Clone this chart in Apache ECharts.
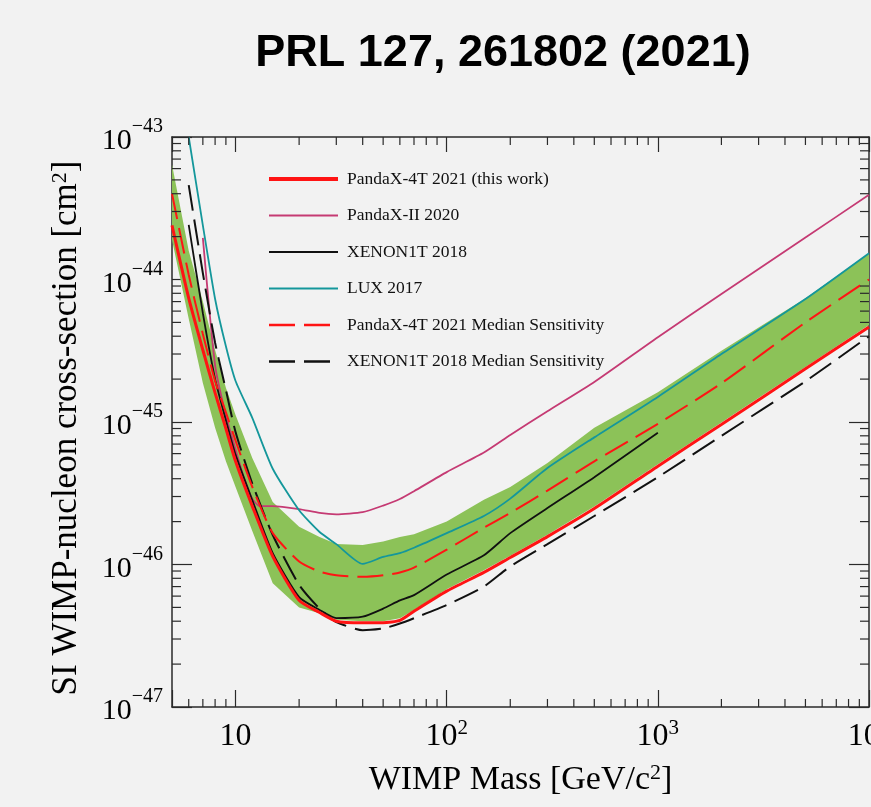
<!DOCTYPE html>
<html lang="en">
<head>
<meta charset="UTF-8" />
<title>PRL 127, 261802 (2021)</title>
<script src="https://cdn.jsdelivr.net/npm/echarts@6/dist/echarts.min.js"></script>
<style>
  html, body { margin: 0; padding: 0; background: #f2f2f2; }
  #chart { width: 871px; height: 807px; }
</style>
</head>
<body>
<div id="chart"></div>
<script>
// WIMP mass grid [GeV/c^2] shared by the PandaX-4T curves and the 1 sigma band
const mass = [5, 6, 7, 8, 9, 10, 12, 15, 20, 25, 30, 40, 50, 60, 70, 100, 150, 200, 300, 500, 1000, 2000, 5000, 10000];
// cross-sections in cm^2
const pandax4t = [2.4e-44, 7.4e-45, 3.2e-45, 1.6e-45, 9.0e-46, 5.3e-46, 2.57e-46, 1.14e-46, 5.6e-47, 4.6e-47, 4.0e-47, 3.9e-47, 3.9e-47, 4.05e-47, 4.7e-47, 6.5e-47, 8.8e-47, 1.12e-46, 1.57e-46, 2.47e-46, 4.9e-46, 9.6e-46, 2.36e-45, 4.65e-45];
const pandax4tMedian = [4.0e-44, 1.08e-44, 4.15e-45, 1.94e-45, 1.17e-45, 7.4e-46, 3.5e-46, 1.66e-46, 1.05e-46, 8.9e-47, 8.4e-47, 8.2e-47, 8.4e-47, 8.8e-47, 9.5e-47, 1.27e-46, 1.81e-46, 2.3e-46, 3.3e-46, 5.3e-46, 9.7e-46, 1.87e-45, 5.0e-45, 1.0e-44];
const bandUpper = [6.4e-44, 1.59e-44, 7.0e-45, 3.2e-45, 1.74e-45, 1.12e-45, 5.6e-46, 2.74e-46, 1.84e-46, 1.56e-46, 1.39e-46, 1.37e-46, 1.45e-46, 1.56e-46, 1.63e-46, 2.0e-46, 2.85e-46, 3.5e-46, 5.15e-46, 9.1e-46, 1.62e-45, 3.16e-45, 7.4e-45, 1.53e-44];
const bandLower = [1.9e-44, 5.3e-45, 1.88e-45, 9.1e-46, 5.3e-46, 3.5e-46, 1.72e-46, 7.4e-47, 5.0e-47, 4.55e-47, 4.1e-47, 4.0e-47, 4.0e-47, 4.2e-47, 4.8e-47, 6.7e-47, 9.1e-47, 1.15e-46, 1.62e-46, 2.55e-46, 5.05e-46, 9.9e-46, 2.43e-45, 4.8e-45];

const pandaxIIMass = [7, 8, 9, 10, 11, 12, 13, 15, 20, 25, 30, 40, 50, 60, 70, 100, 150, 200, 300, 500, 1000, 2000, 5000, 10000];
const pandaxII = [1.96e-44, 2.5e-45, 1.11e-45, 6.4e-46, 4.0e-46, 2.9e-46, 2.57e-46, 2.57e-46, 2.45e-46, 2.3e-46, 2.25e-46, 2.33e-46, 2.59e-46, 2.88e-46, 3.27e-46, 4.45e-46, 6.1e-46, 8.1e-46, 1.19e-45, 1.91e-45, 3.94e-45, 7.9e-45, 1.97e-44, 3.93e-44];

const xenonMass = [6, 7, 8, 9, 10, 12, 15, 20, 25, 30, 40, 50, 60, 70, 100, 150, 200, 300, 500, 1000];
const xenon1t = [2.42e-44, 5.8e-45, 2.0e-45, 1.03e-45, 5.9e-46, 2.83e-46, 1.2e-46, 5.9e-47, 4.8e-47, 4.2e-47, 4.3e-47, 4.9e-47, 5.6e-47, 6.1e-47, 8.5e-47, 1.16e-46, 1.66e-46, 2.49e-46, 4.1e-46, 8.4e-46];

const xenonMedMass = [6, 7, 8, 9, 10, 12, 15, 20, 25, 30, 40, 50, 60, 70, 100, 150, 200, 300, 500, 1000, 2000, 5000, 10000];
const xenon1tMedian = [4.6e-44, 1.11e-44, 3.6e-45, 1.68e-45, 8.5e-46, 3.7e-46, 1.61e-46, 7.2e-47, 4.9e-47, 3.95e-47, 3.46e-47, 3.56e-47, 3.85e-47, 4.2e-47, 5.2e-47, 7.0e-47, 9.7e-47, 1.39e-46, 2.19e-46, 4.1e-46, 8.0e-46, 1.93e-45, 4.0e-45];

const luxMass = [6, 7, 8, 9, 10, 12, 15, 20, 25, 30, 40, 50, 60, 70, 100, 150, 200, 300, 500, 1000, 2000, 5000, 10000];
const lux = [1.0e-43, 2.4e-44, 7.3e-45, 3.4e-45, 1.94e-45, 1.07e-45, 4.7e-46, 2.4e-46, 1.69e-46, 1.39e-46, 1.01e-46, 1.13e-46, 1.2e-46, 1.31e-46, 1.66e-46, 2.19e-46, 2.9e-46, 4.75e-46, 7.8e-46, 1.5e-45, 3.0e-45, 7.3e-45, 1.53e-44];

// axis ranges and minor tick positions (2..9 per decade)
const xMin = 5, xMax = 10000;
const yMin = 1e-47, yMax = 1e-43;
const xDecades = [1, 10, 100, 1000];
const yDecades = [1e-47, 1e-46, 1e-45, 1e-44];
const minorSteps = [2, 3, 4, 5, 6, 7, 8, 9];

// the log axis loses precision on values like 1e-47, so the y axis runs in units of 1e-47 cm^2
const yUnitExp = -47;
const yScale = v => v * Math.pow(10, -yUnitExp);

const xMinor = [];
xDecades.forEach(d => minorSteps.forEach(k => { if (d * k > xMin && d * k < xMax) xMinor.push(d * k); }));
const yMinor = [];
yDecades.forEach(d => minorSteps.forEach(k => yMinor.push(yScale(d) * k)));

const serif = "'Liberation Serif', 'Times New Roman', 'DejaVu Serif', serif";
const axisColor = '#2a2a2a';
const red = '#ff1414', pink = '#c53a73', teal = '#14979b', black = '#111';

function pair(xs, ys) { return xs.map((x, i) => [x, yScale(ys[i])]); }

function powLabel(v, shift) {
  const lg = Math.log10(v);
  const e = Math.round(lg);
  if (Math.abs(lg - e) > 1e-6) return '';
  const p = e + shift;
  if (p === 1) return '{b|10}';
  return '{b|10}{s|' + (p < 0 ? '\u2212' + (-p) : p) + '}';
}

const tickStyle = { stroke: axisColor, lineWidth: 1.2 };

let mychart = echarts.init(document.getElementById('chart'));

let options = {
  animation: false,
  backgroundColor: '#f2f2f2',
  title: {
    text: 'PRL 127, 261802 (2021)',
    left: 498,
    top: 26,
    textAlign: 'center',
    textStyle: { fontSize: 45, fontWeight: 'bold', color: '#000', fontFamily: "'Liberation Sans', Arial, sans-serif" }
  },
  legend: {
    data: [
      { name: 'PandaX-4T 2021 (this work)', lineStyle: { width: 4 } },
      { name: 'PandaX-II 2020', lineStyle: { width: 2 } },
      { name: 'XENON1T 2018', lineStyle: { width: 2 } },
      { name: 'LUX 2017', lineStyle: { width: 2 } },
      { name: 'PandaX-4T 2021 Median Sensitivity', lineStyle: { width: 2.6 } },
      { name: 'XENON1T 2018 Median Sensitivity', lineStyle: { width: 2.6 } }
    ],
    orient: 'vertical',
    left: 262,
    top: 165,
    itemWidth: 69,
    itemHeight: 14,
    itemGap: 18.5,
    selectedMode: false,
    itemStyle: { opacity: 0 },
    textStyle: { fontSize: 17.5, color: '#111', fontFamily: serif, padding: [0, 0, 0, 4] }
  },
  grid: { left: 172, right: 2, top: 137, bottom: 100, outerBoundsMode: 'none' },
  xAxis: [
    {
      type: 'log', min: xMin, max: xMax, position: 'bottom',
      name: '{t|WIMP Mass [GeV/c}{u|2}{t|]}',
      nameLocation: 'middle', nameGap: 54,
      nameTextStyle: {
        rich: {
          t: { fontSize: 34, fontFamily: serif, color: '#000', lineHeight: 38 },
          u: { fontSize: 22, fontFamily: serif, color: '#000', lineHeight: 38, padding: [0, 0, 14, 0] }
        }
      },
      splitLine: { show: false },
      axisLine: { lineStyle: { color: axisColor, width: 1.5 } },
      axisTick: { inside: true, length: 17, lineStyle: { color: axisColor, width: 1.2 } },
      axisLabel: {
        margin: 11,
        formatter: v => powLabel(v, 0),
        rich: {
          b: { fontSize: 32, fontFamily: serif, color: '#000', lineHeight: 38 },
          s: { fontSize: 21, fontFamily: serif, color: '#000', lineHeight: 38, padding: [0, 0, 17, 0] }
        }
      }
    },
    {
      type: 'log', min: xMin, max: xMax, position: 'top',
      splitLine: { show: false },
      axisLine: { lineStyle: { color: axisColor, width: 1.5 } },
      axisTick: { inside: true, length: 15, lineStyle: { color: axisColor, width: 1.2 } },
      axisLabel: { show: false }
    }
  ],
  yAxis: [
    {
      type: 'log', min: yScale(yMin), max: yScale(yMax), position: 'left',
      name: '{t|SI WIMP-nucleon cross-section [cm}{u|2}{t|]}',
      nameLocation: 'middle', nameGap: 86,
      nameTextStyle: {
        padding: [0, 12, 0, 0],
        rich: {
          t: { fontSize: 35, fontFamily: serif, color: '#000', lineHeight: 38 },
          u: { fontSize: 22, fontFamily: serif, color: '#000', lineHeight: 38, padding: [0, 0, 14, 0] }
        }
      },
      splitLine: { show: false },
      axisLine: { lineStyle: { color: axisColor, width: 1.5 } },
      axisTick: { inside: true, length: 20, lineStyle: { color: axisColor, width: 1.2 } },
      axisLabel: {
        margin: 9,
        showMinLabel: true,
        showMaxLabel: true,
        formatter: v => powLabel(v, yUnitExp),
        rich: {
          b: { fontSize: 30, fontFamily: serif, color: '#000', lineHeight: 40, padding: [9, 0, 0, 0] },
          s: { fontSize: 20, fontFamily: serif, color: '#000', lineHeight: 40, padding: [0, 0, 20, 0] }
        }
      }
    },
    {
      type: 'log', min: yScale(yMin), max: yScale(yMax), position: 'right',
      splitLine: { show: false },
      axisLine: { lineStyle: { color: axisColor, width: 1.5 } },
      axisTick: { inside: true, length: 20, lineStyle: { color: axisColor, width: 1.2 } },
      axisLabel: { show: false }
    }
  ],
  series: [
    {
      // PandaX-4T 1 sigma sensitivity band
      type: 'custom',
      silent: true,
      z: 1,
      data: [[mass[0], yScale(bandUpper[0])]],
      renderItem: function (params, api) {
        const pts = mass.map((m, i) => api.coord([m, yScale(bandUpper[i])]));
        for (let i = mass.length - 1; i >= 0; i--) pts.push(api.coord([mass[i], yScale(bandLower[i])]));
        return { type: 'polygon', shape: { points: pts }, style: { fill: '#8cc258' } };
      }
    },
    {
      // minor ticks on bottom and top axes
      type: 'custom',
      silent: true,
      clip: false,
      z: 5,
      data: xMinor.map(v => [v, yScale(yMin)]),
      renderItem: function (params, api) {
        const cs = params.coordSys;
        const x = api.coord([api.value(0), yScale(yMin)])[0];
        const bot = cs.y + cs.height, top = cs.y;
        return {
          type: 'group',
          children: [
            { type: 'line', shape: { x1: x, y1: bot, x2: x, y2: bot - 8 }, style: tickStyle },
            { type: 'line', shape: { x1: x, y1: top, x2: x, y2: top + 8 }, style: tickStyle }
          ]
        };
      }
    },
    {
      // minor ticks on left and right axes
      type: 'custom',
      silent: true,
      clip: false,
      z: 5,
      data: yMinor.map(v => [xMin, v]),
      renderItem: function (params, api) {
        const cs = params.coordSys;
        const y = api.coord([xMin, api.value(1)])[1];
        const l = cs.x, r = cs.x + cs.width;
        return {
          type: 'group',
          children: [
            { type: 'line', shape: { x1: l, y1: y, x2: l + 9, y2: y }, style: tickStyle },
            { type: 'line', shape: { x1: r, y1: y, x2: r - 9, y2: y }, style: tickStyle }
          ]
        };
      }
    },
    {
      name: 'PandaX-II 2020', type: 'line', z: 3, symbol: 'none', smooth: 0.2,
      data: pair(pandaxIIMass, pandaxII),
      lineStyle: { color: pink, width: 1.8 }, itemStyle: { color: pink }
    },
    {
      name: 'LUX 2017', type: 'line', z: 3, symbol: 'none', smooth: 0.2,
      data: pair(luxMass, lux),
      lineStyle: { color: teal, width: 1.8 }, itemStyle: { color: teal }
    },
    {
      name: 'XENON1T 2018', type: 'line', z: 3, symbol: 'none', smooth: 0.2,
      data: pair(xenonMass, xenon1t),
      lineStyle: { color: black, width: 1.8 }, itemStyle: { color: black }
    },
    {
      name: 'XENON1T 2018 Median Sensitivity', type: 'line', z: 3, symbol: 'none', smooth: 0.2,
      data: pair(xenonMedMass, xenon1tMedian),
      lineStyle: { color: black, width: 2, type: [26, 9] }, itemStyle: { color: black }
    },
    {
      name: 'PandaX-4T 2021 Median Sensitivity', type: 'line', z: 3, symbol: 'none', smooth: 0.2,
      data: pair(mass, pandax4tMedian),
      lineStyle: { color: red, width: 2, type: [26, 9] }, itemStyle: { color: red }
    },
    {
      name: 'PandaX-4T 2021 (this work)', type: 'line', z: 4, symbol: 'none', smooth: 0.2,
      data: pair(mass, pandax4t),
      lineStyle: { color: red, width: 3 }, itemStyle: { color: red }
    }
  ]
};

mychart.setOption(options);
</script>
</body>
</html>
